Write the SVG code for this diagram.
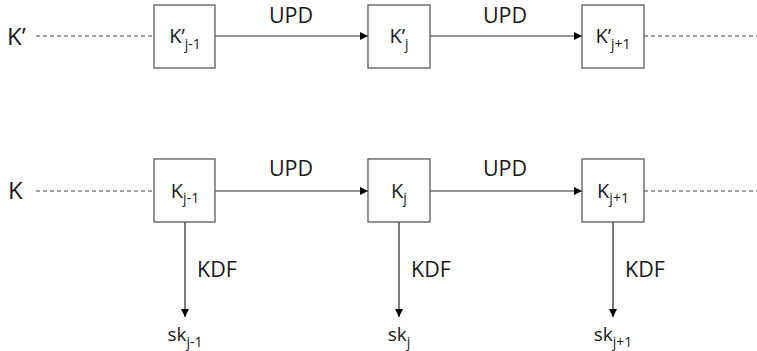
<svg xmlns="http://www.w3.org/2000/svg" width="757" height="351" viewBox="0 0 757 351">
  <defs>
    <marker id="arrow" viewBox="0 0 10 10" refX="10" refY="5" markerWidth="8" markerHeight="8" markerUnits="userSpaceOnUse" orient="auto">
      <path d="M0,0 L10,5 L0,10 z" fill="#000"/>
    </marker>
    <style>
      .box { fill: #fff; stroke: #595959; stroke-width: 1.3; }
      .conn { stroke: #262626; stroke-width: 1.2; fill: none; }
      .dash { stroke: #404040; stroke-width: 1.2; stroke-dasharray: 4 3; fill: none; }
      .lbl { font-family: "Open Sans", "Liberation Sans", sans-serif; fill: #1a1a1a; }
      .big { font-size: 24px; }
      .mid { font-size: 21.5px; }
      .box-t { font-size: 20px; }
      .sk-t { font-size: 19px; }
      .sub { font-size: 14px; }
    </style>
  </defs>
  <rect width="757" height="351" fill="#fff"/>

  <!-- connectors -->
  <g id="connectors">
    <line class="dash" x1="36" y1="36" x2="154" y2="36"/>
    <line class="dash" x1="644" y1="36" x2="757" y2="36"/>
    <line class="dash" x1="36" y1="191" x2="154" y2="191"/>
    <line class="dash" x1="644" y1="191" x2="757" y2="191"/>
    <line class="conn" x1="215" y1="36" x2="368" y2="36" marker-end="url(#arrow)"/>
    <line class="conn" x1="430" y1="36" x2="582" y2="36" marker-end="url(#arrow)"/>
    <line class="conn" x1="215" y1="191" x2="368" y2="191" marker-end="url(#arrow)"/>
    <line class="conn" x1="430" y1="191" x2="582" y2="191" marker-end="url(#arrow)"/>
    <line class="conn" x1="185" y1="222" x2="185" y2="317" marker-end="url(#arrow)"/>
    <line class="conn" x1="399" y1="222" x2="399" y2="317" marker-end="url(#arrow)"/>
    <line class="conn" x1="613" y1="222" x2="613" y2="317" marker-end="url(#arrow)"/>
    <text class="lbl mid" x="291" y="23" text-anchor="middle">UPD</text>
    <text class="lbl mid" x="505" y="23" text-anchor="middle">UPD</text>
    <text class="lbl mid" x="291" y="176" text-anchor="middle">UPD</text>
    <text class="lbl mid" x="505" y="176" text-anchor="middle">UPD</text>
    <text class="lbl mid" x="197" y="277">KDF</text>
    <text class="lbl mid" x="411" y="277">KDF</text>
    <text class="lbl mid" x="625" y="277">KDF</text>
  </g>

  <!-- row labels -->
  <g id="row-kprime"><text class="lbl big" x="7" y="45">K’</text></g>
  <g id="row-k"><text class="lbl big" x="8" y="199">K</text></g>

  <!-- K' chain -->
  <g id="kp-j-1">
    <rect class="box" x="154" y="5" width="61" height="63"/>
    <text class="lbl box-t" x="185" y="43" text-anchor="middle">K’<tspan class="sub" dy="6">j-1</tspan></text>
  </g>
  <g id="kp-j">
    <rect class="box" x="368" y="5" width="62" height="63"/>
    <text class="lbl box-t" x="399" y="43" text-anchor="middle">K’<tspan class="sub" dy="6">j</tspan></text>
  </g>
  <g id="kp-j+1">
    <rect class="box" x="582" y="5" width="62" height="63"/>
    <text class="lbl box-t" x="613" y="43" text-anchor="middle">K’<tspan class="sub" dy="6">j+1</tspan></text>
  </g>

  <!-- K chain -->
  <g id="k-j-1">
    <rect class="box" x="154" y="159" width="61" height="63"/>
    <text class="lbl box-t" x="185" y="198" text-anchor="middle">K<tspan class="sub" dy="5">j-1</tspan></text>
  </g>
  <g id="k-j">
    <rect class="box" x="368" y="159" width="62" height="63"/>
    <text class="lbl box-t" x="399" y="198" text-anchor="middle">K<tspan class="sub" dy="5">j</tspan></text>
  </g>
  <g id="k-j+1">
    <rect class="box" x="582" y="159" width="62" height="63"/>
    <text class="lbl box-t" x="613" y="198" text-anchor="middle">K<tspan class="sub" dy="5">j+1</tspan></text>
  </g>

  <!-- derived session keys -->
  <g id="sk-j-1"><text class="lbl sk-t" x="185" y="341" text-anchor="middle">sk<tspan class="sub" dy="6">j-1</tspan></text></g>
  <g id="sk-j"><text class="lbl sk-t" x="399" y="341" text-anchor="middle">sk<tspan class="sub" dy="6">j</tspan></text></g>
  <g id="sk-j+1"><text class="lbl sk-t" x="613" y="341" text-anchor="middle">sk<tspan class="sub" dy="6">j+1</tspan></text></g>
</svg>
